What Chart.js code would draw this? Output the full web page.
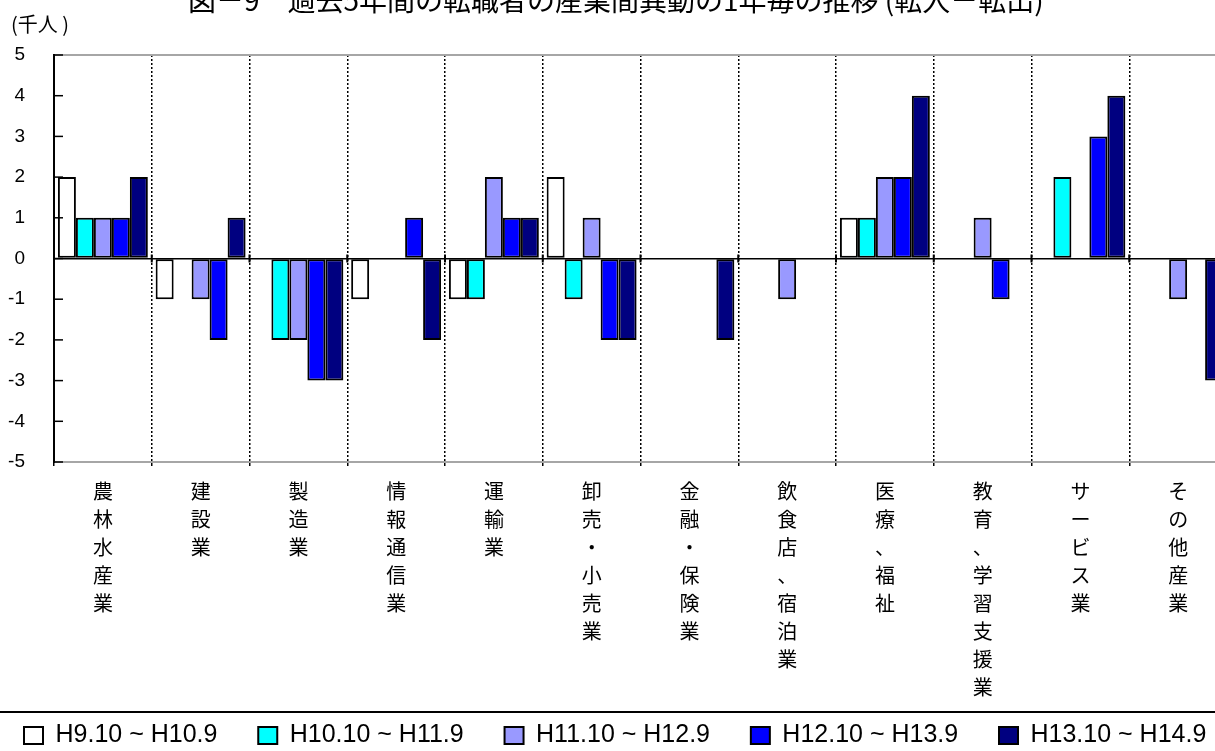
<!DOCTYPE html>
<html lang="ja">
<head>
<meta charset="utf-8">
<title>産業間異動の推移</title>
<script src="https://cdn.jsdelivr.net/npm/chart.js@4/dist/chart.umd.min.js"></script>
<style>
  html, body { margin: 0; padding: 0; background: #fff; overflow: hidden; width: 1215px; height: 751px; }
  #wrap { position: absolute; left: 0; top: -20px; width: 1290px; height: 778px; }
</style>
</head>
<body>
<div id="wrap"><canvas id="chart"></canvas></div>
<script>
// data (千人)
const titleText = '図－9　過去5年間の転職者の産業間異動の1年毎の推移 (転入－転出)';
const unitLabel = '(千人 )';

const categories = [
  ['農', '林', '水', '産', '業'],
  ['建', '設', '業'],
  ['製', '造', '業'],
  ['情', '報', '通', '信', '業'],
  ['運', '輸', '業'],
  ['卸', '売', '・', '小', '売', '業'],
  ['金', '融', '・', '保', '険', '業'],
  ['飲', '食', '店', '、', '宿', '泊', '業'],
  ['医', '療', '、', '福', '祉'],
  ['教', '育', '、', '学', '習', '支', '援', '業'],
  ['サ', 'ー', 'ビ', 'ス', '業'],
  ['そ', 'の', '他', '産', '業']
];

const seriesNames = ['H9.10 ~ H10.9', 'H10.10 ~ H11.9', 'H11.10 ~ H12.9', 'H12.10 ~ H13.9', 'H13.10 ~ H14.9'];
const h9  = [2, -1, 0, -1, -1, 2, 0, 0, 1, 0, 0, 0];
const h10 = [1, 0, -2, 0, -1, -1, 0, 0, 1, 0, 2, 0];
const h11 = [1, -1, -2, 0, 2, 1, 0, -1, 2, 1, 0, -1];
const h12 = [1, -2, -3, 1, 1, -2, 0, 0, 2, -1, 3, 0];
const h13 = [2, 1, -3, -2, 1, -2, -2, 0, 4, 0, 4, -3];

const yTicks = [5, 4, 3, 2, 1, 0, -1, -2, -3, -4, -5];

const colors = ['#ffffff', '#00ffff', '#9999ff', '#0000ff', '#000080'];

// trailing gap after each legend entry (legend padding is kept small so the axis labels have room)
const legendGaps = ['   ', '   ', '   ', '   ', ''];

Chart.defaults.color = '#000';
Chart.defaults.font.family = '"Liberation Sans", Arial, sans-serif';

// little extras: inward value ticks, marks on the zero line, rule over the legend, unit label
const extras = {
  id: 'extras',
  afterDraw(chart) {
    const { ctx, chartArea, scales: { x, y } } = chart;
    ctx.save();
    ctx.strokeStyle = '#000';
    ctx.lineWidth = 1.5;
    yTicks.forEach(v => {
      const py = y.getPixelForValue(v);
      ctx.beginPath();
      ctx.moveTo(chartArea.left, py);
      ctx.lineTo(chartArea.left + 9, py);
      ctx.stroke();
    });
    const y0 = y.getPixelForValue(0);
    ctx.lineWidth = 2;
    for (let i = 0; i <= categories.length; i++) {
      const px = x.getPixelForValue(i - 0.5);
      ctx.beginPath();
      ctx.moveTo(px, y0 - 4);
      ctx.lineTo(px, y0 + 4);
      ctx.stroke();
    }
    const ly = chart.legend.top + 9;
    ctx.beginPath();
    ctx.moveTo(0, ly);
    ctx.lineTo(chart.width, ly);
    ctx.stroke();
    ctx.fillStyle = '#000';
    ctx.font = '20px "Noto Sans CJK JP"';
    ctx.textBaseline = 'middle';
    ctx.textAlign = 'left';
    ctx.fillText(unitLabel, chartArea.left - 43, chartArea.top - 31);
    ctx.restore();
  }
};

const datasets = [h9, h10, h11, h12, h13].map((d, i) => ({
  label: seriesNames[i],
  data: d,
  backgroundColor: colors[i],
  borderColor: '#000',
  borderWidth: 2,
  borderSkipped: false,
  barPercentage: 1,
  categoryPercentage: 0.92
}));

new Chart(document.getElementById('chart'), {
  type: 'bar',
  data: { labels: categories, datasets },
  options: {
    responsive: true,
    maintainAspectRatio: false,
    animation: false,
    layout: { padding: { left: 4, right: 0, top: 0, bottom: 0 } },
    plugins: {
      title: {
        display: true,
        text: titleText + '　　 ',
        font: { family: '"Noto Sans CJK JP"', size: 28, weight: 'normal', lineHeight: 1.2 },
        padding: { top: 4, bottom: 37.4 }
      },
      legend: {
        position: 'bottom',
        align: 'start',
        labels: {
          boxWidth: 19,
          boxHeight: 17,
          padding: 20,
          font: { size: 25 },
          generateLabels(chart) {
            return Chart.defaults.plugins.legend.labels.generateLabels(chart)
              .map((item, i) => ({ ...item, text: item.text + legendGaps[i] }));
          }
        }
      },
      tooltip: { enabled: false }
    },
    scales: {
      x: {
        afterFit(scale) { scale.height = 241; scale.paddingRight = 63; },
        grid: {
          color: '#000',
          lineWidth: 1.5,
          drawTicks: true,
          tickLength: 4,
          tickColor: '#000',
          tickWidth: 1.5
        },
        border: { display: false, dash: [2, 2] },
        ticks: {
          autoSkip: false,
          maxRotation: 0,
          minRotation: 0,
          padding: 11,
          font: { family: '"Noto Sans CJK JP"', size: 20, lineHeight: '28px' }
        }
      },
      y: {
        min: -5,
        max: 5,
        afterBuildTicks(scale) { scale.ticks = yTicks.map(v => ({ value: v })); },
        afterFit(scale) { scale.width = 50; },
        grid: {
          drawTicks: false,
          color: c => c.tick.value === 0 ? '#000' : (Math.abs(c.tick.value) === 5 ? '#a6a6a6' : 'rgba(0,0,0,0)'),
          lineWidth: c => c.tick.value === 0 ? 1.5 : (Math.abs(c.tick.value) === 5 ? 2 : 0)
        },
        border: { display: true, color: '#000', width: 2 },
        ticks: {
          padding: 29,
          font: { size: 19 }
        }
      }
    }
  },
  plugins: [extras]
});
</script>
</body>
</html>
